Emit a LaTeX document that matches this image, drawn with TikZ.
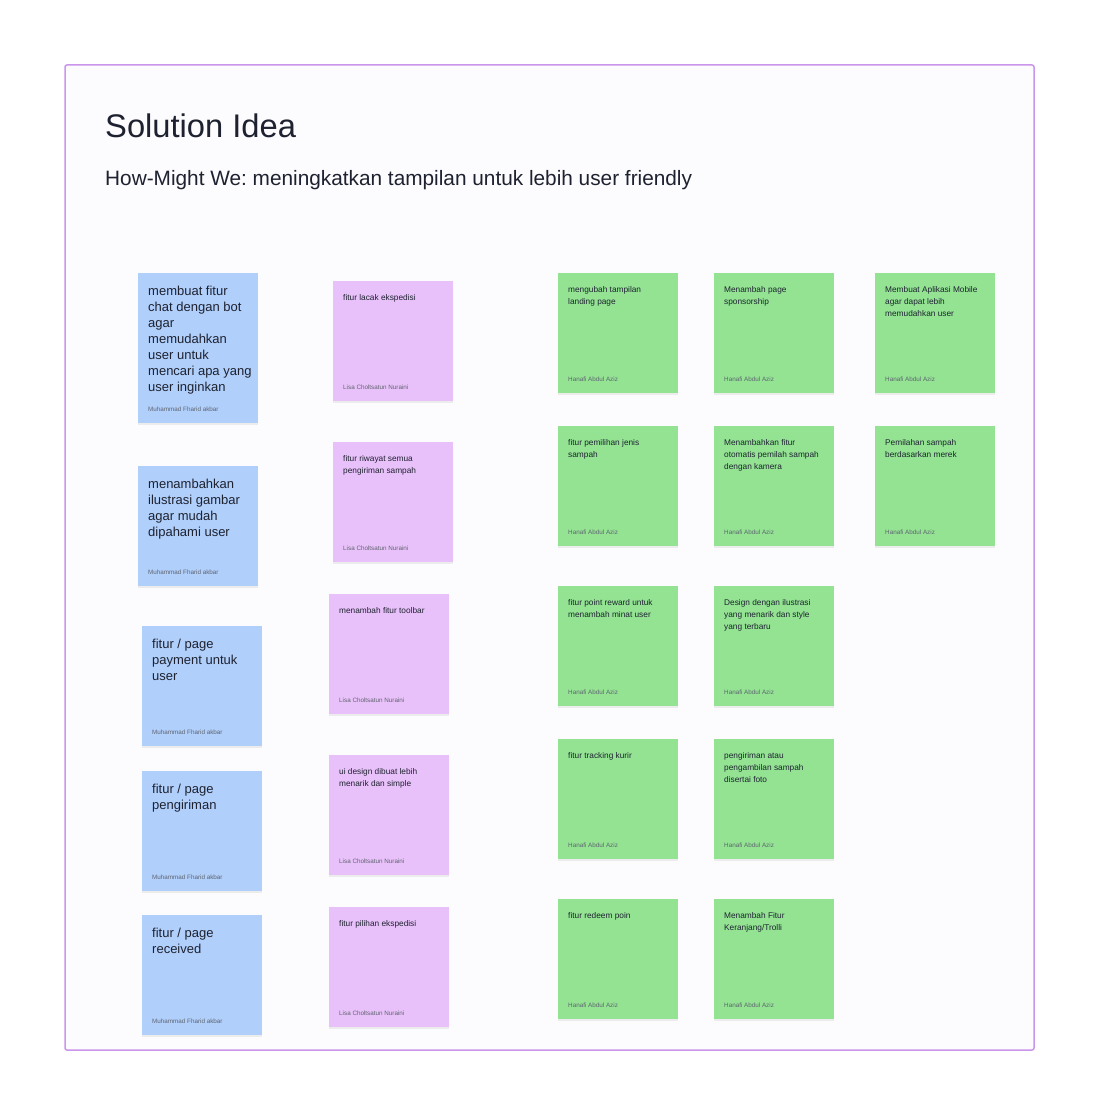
\documentclass[tikz,border=0pt]{standalone}
\usepackage{fontspec}
\setmainfont{Liberation Sans}
\usetikzlibrary{shadows}
\frenchspacing

\definecolor{noteblue}{HTML}{B0CFFB}
\definecolor{notepink}{HTML}{E9C1FA}
\definecolor{notegreen}{HTML}{93E393}
\definecolor{boardline}{HTML}{CB95EC}
\definecolor{boardfill}{HTML}{FCFBFD}
\definecolor{ink}{HTML}{1E2230}
\definecolor{inkgray}{HTML}{5F6470}

\tikzset{
	board/.style={draw=boardline, line width=1.5pt, fill=boardfill, rounded corners=2pt,
		minimum width=969pt, minimum height=985pt, inner sep=0pt},
	note/.style={anchor=north west, inner sep=0pt, minimum width=120pt, minimum height=120pt,
		drop shadow={shadow xshift=0pt, shadow yshift=-2pt, opacity=0.12}},
	bluenote/.style={note, fill=noteblue},
	pinknote/.style={note, fill=notepink},
	greennote/.style={note, fill=notegreen},
	bigidea/.style={anchor=north west, inner sep=0pt, align=left, text=ink,
		font=\fontsize{13}{16}\selectfont},
	idea/.style={anchor=north west, inner sep=0pt, align=left, text=ink,
		font=\fontsize{8.3}{12}\selectfont},
	author/.style={anchor=base west, inner sep=0pt, text=inkgray,
		font=\fontsize{6.3}{7}\selectfont},
}

\begin{document}
\begin{tikzpicture}[x=1pt, y=-1pt]
	\useasboundingbox (0,0) rectangle (1100,1116);
	\node[board] (board) at (549.5,557.5) {};

	\node[anchor=base west, inner sep=0pt, text=ink, font=\fontsize{32.7}{36}\selectfont] (title) at (105,137) {Solution Idea};
	\node[anchor=base west, inner sep=0pt, text=ink, font=\fontsize{20.8}{24}\selectfont] (hmw) at (105,185) {How-Might We: meningkatkan tampilan untuk lebih user friendly};

	% blue notes
	\node[bluenote, minimum height=150pt] (b1) at (138,273) {};
	\node[bigidea] (b1t) at ([xshift=10pt,yshift=-13pt]b1.north west) {membuat fitur\\chat dengan bot\\agar\\memudahkan\\user untuk\\mencari apa yang\\user inginkan};
	\node[author] (b1a) at ([xshift=10pt,yshift=12pt]b1.south west) {Muhammad Fharid akbar};

	\node[bluenote] (b2) at (138,466) {};
	\node[bigidea] (b2t) at ([xshift=10pt,yshift=-13pt]b2.north west) {menambahkan\\ilustrasi gambar\\agar mudah\\dipahami user};
	\node[author] (b2a) at ([xshift=10pt,yshift=12pt]b2.south west) {Muhammad Fharid akbar};

	\node[bluenote] (b3) at (142,626) {};
	\node[bigidea] (b3t) at ([xshift=10pt,yshift=-13pt]b3.north west) {fitur / page\\payment untuk\\user};
	\node[author] (b3a) at ([xshift=10pt,yshift=12pt]b3.south west) {Muhammad Fharid akbar};

	\node[bluenote] (b4) at (142,771) {};
	\node[bigidea] (b4t) at ([xshift=10pt,yshift=-13pt]b4.north west) {fitur / page\\pengiriman};
	\node[author] (b4a) at ([xshift=10pt,yshift=12pt]b4.south west) {Muhammad Fharid akbar};

	\node[bluenote] (b5) at (142,915) {};
	\node[bigidea] (b5t) at ([xshift=10pt,yshift=-13pt]b5.north west) {fitur / page\\received};
	\node[author] (b5a) at ([xshift=10pt,yshift=12pt]b5.south west) {Muhammad Fharid akbar};

	% pink notes
	\foreach \name/\x/\y/\txt in {
		p1/333/281/{fitur lacak ekspedisi},
		p2/333/442/{fitur riwayat semua\\pengiriman sampah},
		p3/329/594/{menambah fitur toolbar},
		p4/329/755/{ui design dibuat lebih\\menarik dan simple},
		p5/329/907/{fitur pilihan ekspedisi}}
	{
		\node[pinknote] (\name) at (\x,\y) {};
		\node[idea] (\name t) at ([xshift=10pt,yshift=-13pt]\name.north west) {\txt};
		\node[author] (\name a) at ([xshift=10pt,yshift=12pt]\name.south west) {Lisa Choltsatun Nuraini};
	}

	% green notes
	\foreach \name/\x/\y/\txt in {
		g11/558/273/{mengubah tampilan\\landing page},
		g21/714/273/{Menambah page\\sponsorship},
		g31/875/273/{Membuat Aplikasi Mobile\\agar dapat lebih\\memudahkan user},
		g12/558/426/{fitur pemilihan jenis\\sampah},
		g22/714/426/{Menambahkan fitur\\otomatis pemilah sampah\\dengan kamera},
		g32/875/426/{Pemilahan sampah\\berdasarkan merek},
		g13/558/586/{fitur point reward untuk\\menambah minat user},
		g23/714/586/{Design dengan ilustrasi\\yang menarik dan style\\yang terbaru},
		g14/558/739/{fitur tracking kurir},
		g24/714/739/{pengiriman atau\\pengambilan sampah\\disertai foto},
		g15/558/899/{fitur redeem poin},
		g25/714/899/{Menambah Fitur\\Keranjang/Trolli}}
	{
		\node[greennote] (\name) at (\x,\y) {};
		\node[idea] (\name t) at ([xshift=10pt,yshift=-13pt]\name.north west) {\txt};
		\node[author] (\name a) at ([xshift=10pt,yshift=12pt]\name.south west) {Hanafi Abdul Aziz};
	}
\end{tikzpicture}
\end{document}
